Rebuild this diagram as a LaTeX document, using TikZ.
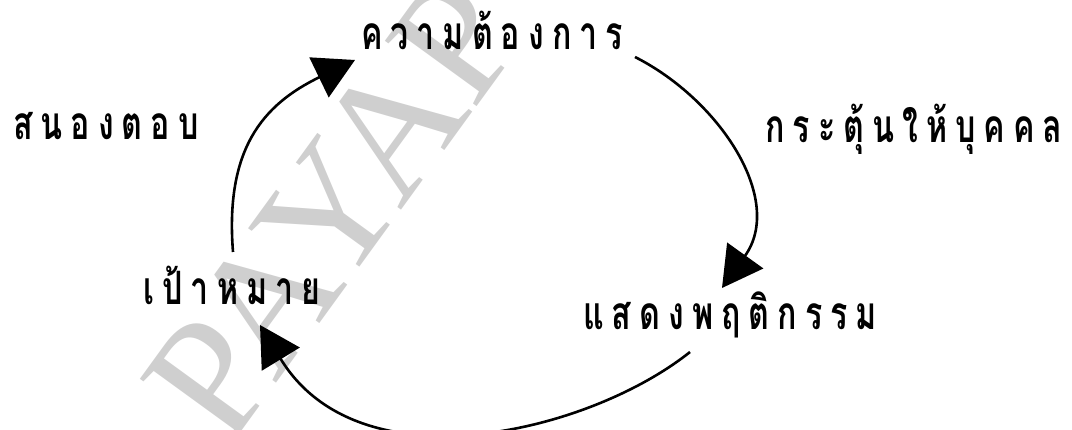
\documentclass[tikz,border=0pt]{standalone}
\usepackage{fontspec}
\newfontfamily\thaifont[Script=Thai,FakeStretch=0.7]{Loma}
\newfontfamily\wmfont{Liberation Serif}
\usetikzlibrary{arrows.meta}
\newcommand\gp{\hspace{8pt}}
\begin{document}
\begin{tikzpicture}[x=1pt,y=-1pt,
  lbl/.style={font=\thaifont\bfseries\fontsize{46}{52}\selectfont, inner sep=0pt, anchor=base},
  cyc/.style={line width=2.6pt, -{Triangle[length=40pt,width=44pt]}},
  wm/.style={text=black!19, font=\wmfont\fontsize{172}{172}\selectfont, rotate=54, inner sep=0pt}]
\useasboundingbox (0,0) rectangle (1072,430);
\node[wm] (wm) at (333,208) {PAYAP};
% labels
\node[lbl] (need) at (492,50) {ค\gp ว\gp า\gp ม\gp ต้\gp อ\gp ง\gp ก\gp า\gp ร};
\node[lbl] (stim) at (914,143) {ก\gp ร\gp ะ\gp ตุ้\gp น\gp ใ\gp ห้\gp บุ\gp ค\gp ค\gp ล};
\node[lbl] (beh) at (730,330) {แ\gp ส\gp ด\gp ง\gp พ\gp ฤ\gp ติ\gp ก\gp ร\gp ร\gp ม};
\node[lbl] (goal) at (232,305) {เ\gp ป้\gp า\gp ห\gp ม\gp า\gp ย};
\node[lbl] (resp) at (106,140) {ส\gp น\gp อ\gp ง\gp ต\gp อ\gp บ};
% connector ends
\coordinate (a1) at (635,57);
\coordinate (b1) at (722,288);
\coordinate (a2) at (690,352);
\coordinate (b2) at (260,325);
\coordinate (a3) at (233,252);
\coordinate (b3) at (355,60);
\draw[cyc] (a1) .. controls (720,100) and (785,200) .. (b1);
\draw[cyc] (a2) .. controls (590,432) and (360,489) .. (b2);
\draw[cyc] (a3) .. controls (225,150) and (262,105) .. (b3);
\end{tikzpicture}
\end{document}
